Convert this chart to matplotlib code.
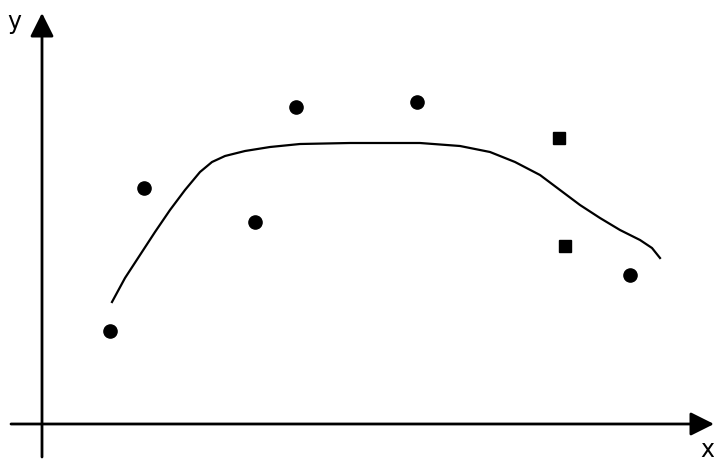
import matplotlib.pyplot as plt

# scattered observations (round dots and square dots)
dots_x = [6.8, 10.2, 21.3, 25.4, 37.5, 58.8]
dots_y = [9.3, 23.6, 20.2, 31.7, 32.2, 14.9]
squares_x = [51.7, 52.3]
squares_y = [28.6, 17.8]

# hand-drawn trend curve
curve_x = [7.0, 8.3, 9.8, 11.3, 12.8, 14.3, 15.8, 17.0, 18.3, 20.3, 22.8, 25.8,
           30.8, 37.8, 41.8, 44.8, 47.3, 49.8, 51.8, 53.8, 55.8, 57.8, 59.8,
           61.0, 61.8]
curve_y = [12.2, 14.6, 16.9, 19.2, 21.4, 23.4, 25.2, 26.2, 26.8, 27.3, 27.7,
           28.0, 28.1, 28.1, 27.8, 27.2, 26.2, 24.9, 23.4, 21.9, 20.6, 19.4,
           18.4, 17.6, 16.6]

fig = plt.figure(figsize=(7.14, 4.61), dpi=100)
ax = fig.add_axes([0, 0, 1, 1])
ax.set_xlim(-4.2, 67.2)
ax.set_ylim(-3.7, 42.4)
ax.axis('off')

# axes with arrow heads
arrow = dict(arrowstyle='-|>,head_length=0.9,head_width=0.45', mutation_scale=16,
             lw=2.0, color='black', shrinkA=0, shrinkB=0)
ax.annotate('', xy=(67.2, 0), xytext=(-3.1, 0), arrowprops=arrow)
ax.annotate('', xy=(0, 41.1), xytext=(0, -3.3), arrowprops=arrow)
ax.text(-2.8, 40.2, 'y', fontsize=17, ha='center', va='center')
ax.text(66.5, -2.6, 'x', fontsize=17, ha='center', va='center')

ax.plot(curve_x, curve_y, color='black', lw=1.6)
ax.plot(dots_x, dots_y, 'o', color='black', markersize=9.5)
ax.plot(squares_x, squares_y, 's', color='black', markersize=8.5)

plt.savefig('out.png', dpi=100)
